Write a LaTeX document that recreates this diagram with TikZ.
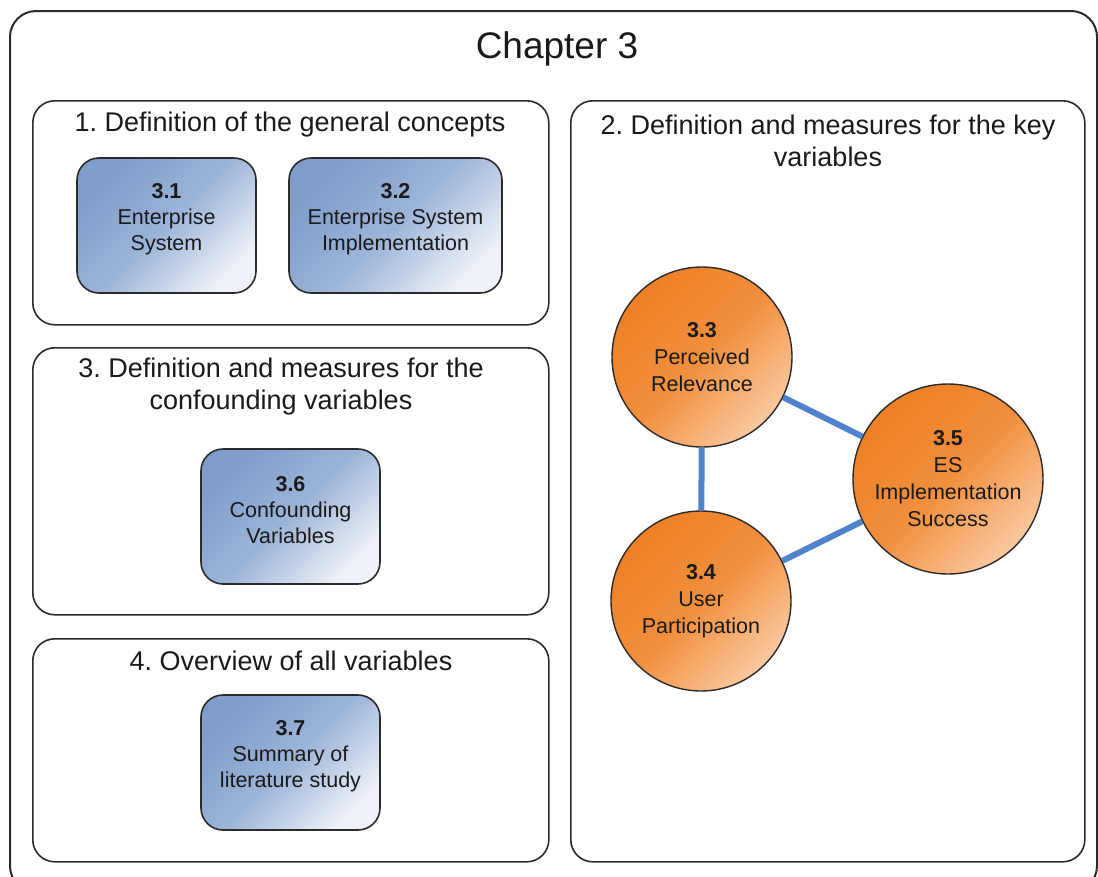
\documentclass[tikz,border=0pt]{standalone}
\usepackage{fontspec}
\setmainfont{Liberation Sans}
\definecolor{boxdark}{HTML}{7E9DCA}
\definecolor{boxmid}{HTML}{9CB4D8}
\definecolor{boxlight}{HTML}{EEF2F8}
\definecolor{ordark}{HTML}{EE8025}
\definecolor{ormid}{HTML}{F18F3D}
\definecolor{orlight}{HTML}{FAC9A0}
\definecolor{edgeblue}{HTML}{4F83CC}
\definecolor{linegray}{HTML}{2B2B2B}
\definecolor{txt}{HTML}{1A1A1A}
\begin{document}
\frenchspacing
\begin{tikzpicture}[x=1pt,y=-1pt,
  outerbox/.style={draw=linegray, line width=2pt, rounded corners=26pt},
  panel/.style={draw=linegray, line width=1.6pt, rounded corners=22pt, inner sep=0pt, anchor=north west},
  bluebox/.style={draw=linegray, line width=1.6pt, rounded corners=22pt, inner sep=0pt,
     top color=boxdark, bottom color=boxlight, middle color=boxmid, shading angle=45,
     minimum height=135pt},
  boxtext/.style={align=center, text=txt, inner sep=0pt, font=\fontsize{21.5}{26}\selectfont},
  orcircle/.style={circle, draw=linegray, line width=1.4pt, inner sep=0pt,
     top color=ordark, bottom color=orlight, middle color=ormid, shading angle=45,
     align=center, text=txt, font=\fontsize{21.5}{27}\selectfont},
  ptitle/.style={align=center, text=txt, font=\fontsize{27}{32}\selectfont},
  edgeline/.style={draw=edgeblue, line width=6pt}]
\useasboundingbox (0,0) rectangle (1098,876);
\draw[outerbox] (10,11) rectangle (1097,892);
\node[text=txt, font=\fontsize{37}{44}\selectfont] (title) at (557,49) {Chapter 3};

\node[panel, minimum width=516pt, minimum height=224pt] (p1) at (32,100) {};
\node[panel, minimum width=514pt, minimum height=761pt] (p2) at (570,100) {};
\node[panel, minimum width=516pt, minimum height=267pt] (p3) at (32,347) {};
\node[panel, minimum width=516pt, minimum height=223pt] (p4) at (32,638) {};

\node[ptitle] (t1) at (290,125) {1. Definition of the general concepts};
\node[ptitle] (t2) at (828,141) {2. Definition and measures for the key\\variables};
\node[ptitle] (t3) at (281,387) {3. Definition and measures for the\\confounding variables};
\node[ptitle] (t4) at (291,661) {4. Overview of all variables};

\node[bluebox, minimum width=179pt] (b31) at (166.5,225.5) {};
\node[bluebox, minimum width=213pt] (b32) at (395.5,225.5) {};
\node[bluebox, minimum width=179pt] (b36) at (290.5,516.5) {};
\node[bluebox, minimum width=179pt] (b37) at (290.5,762.5) {};
\node[boxtext] (b31t) at ([yshift=6pt]b31.center) {\textbf{3.1}\\Enterprise\\System};
\node[boxtext] (b32t) at ([yshift=6pt]b32.center) {\textbf{3.2}\\Enterprise System\\Implementation};
\node[boxtext] (b36t) at ([yshift=6pt]b36.center) {\textbf{3.6}\\Confounding\\Variables};
\node[boxtext] (b37t) at ([yshift=6pt]b37.center) {\textbf{3.7}\\Summary of\\literature study};

\node[orcircle, minimum size=180pt] (c33) at (702,357) {\textbf{3.3}\\Perceived\\Relevance};
\node[orcircle, minimum size=180pt] (c34) at (701,601) {\textbf{3.4}\\User\\Participation};
\node[orcircle, minimum size=190pt] (c35) at (948,479) {\textbf{3.5}\\ES\\Implementation\\Success};

\draw[edgeline] (c33) -- (c34);
\draw[edgeline] (c33) -- (c35);
\draw[edgeline] (c34) -- (c35);
\end{tikzpicture}
\end{document}
